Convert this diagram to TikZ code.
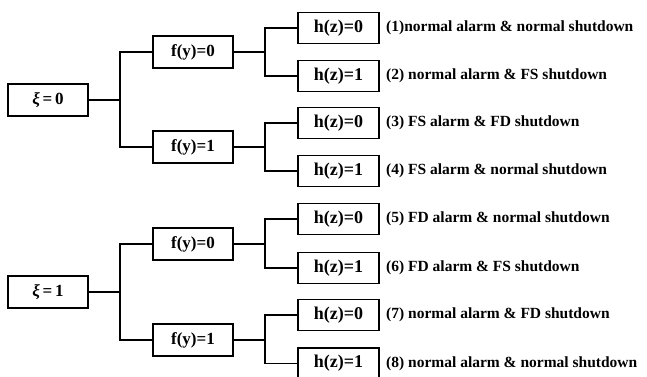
\documentclass[tikz,border=0pt]{standalone}
\usepackage{fontspec}
\setmainfont{Liberation Serif}
\begin{document}
\begin{tikzpicture}[x=1pt,y=-1pt,
  box/.style={draw,line width=1.3pt,inner sep=0pt,minimum width=80pt,minimum height=32pt,font=\fontsize{17}{20}\selectfont\bfseries},
  hbox/.style={box,minimum width=81pt,minimum height=31pt,font=\fontsize{18}{20}\selectfont\bfseries},
  lab/.style={anchor=west,inner sep=0pt,font=\fontsize{15.5}{18}\selectfont\bfseries},
  conn/.style={line width=1.2pt}]
\useasboundingbox (0,0) rectangle (647,376);
% level 0
\node[box] (xi0) at (48,100) {{\itshape ξ}\,=\,0};
\node[box] (xi1) at (48,292) {{\itshape ξ}\,=\,1};
% level 1
\node[box] (f00) at (193,52) {f(y)=0};
\node[box] (f01) at (193,147) {f(y)=1};
\node[box] (f10) at (193,244) {f(y)=0};
\node[box] (f11) at (193,340) {f(y)=1};
% level 2
\node[hbox] (h1) at (338.5,28) {h(z)=0};
\node[hbox] (h2) at (338.5,76) {h(z)=1};
\node[hbox] (h3) at (338.5,123) {h(z)=0};
\node[hbox] (h4) at (338.5,171) {h(z)=1};
\node[hbox] (h5) at (338.5,219) {h(z)=0};
\node[hbox] (h6) at (338.5,268) {h(z)=1};
\node[hbox] (h7) at (338.5,315) {h(z)=0};
\node[hbox] (h8) at (338.5,363.5) {h(z)=1};
% labels
\node[lab] (l1) at (386,28) {(1)normal alarm \& normal shutdown};
\node[lab] (l2) at (386,76) {(2) normal alarm \& FS shutdown};
\node[lab] (l3) at (386,123) {(3) FS alarm \& FD shutdown};
\node[lab] (l4) at (386,171) {(4) FS alarm \& normal shutdown};
\node[lab] (l5) at (386,219) {(5) FD alarm \& normal shutdown};
\node[lab] (l6) at (386,268) {(6) FD alarm \& FS shutdown};
\node[lab] (l7) at (386,315) {(7) normal alarm \& FD shutdown};
\node[lab] (l8) at (386,363.5) {(8) normal alarm \& normal shutdown};
% junctions
\coordinate (j0) at (120,100);
\coordinate (j1) at (120,292);
\coordinate (k1) at (265,52);
\coordinate (k2) at (265,147);
\coordinate (k3) at (265,244);
\coordinate (k4) at (265,340);
% connectors
\draw[conn] (xi0.east) -- (j0);
\draw[conn] (f00.west) -| (j0) |- (f01.west);
\draw[conn] (xi1.east) -- (j1);
\draw[conn] (f10.west) -| (j1) |- (f11.west);
\draw[conn] (f00.east) -- (k1);
\draw[conn] (h1.west) -| (k1) |- (h2.west);
\draw[conn] (f01.east) -- (k2);
\draw[conn] (h3.west) -| (k2) |- (h4.west);
\draw[conn] (f10.east) -- (k3);
\draw[conn] (h5.west) -| (k3) |- (h6.west);
\draw[conn] (f11.east) -- (k4);
\draw[conn] (h7.west) -| (k4) |- (h8.west);
\end{tikzpicture}
\end{document}
